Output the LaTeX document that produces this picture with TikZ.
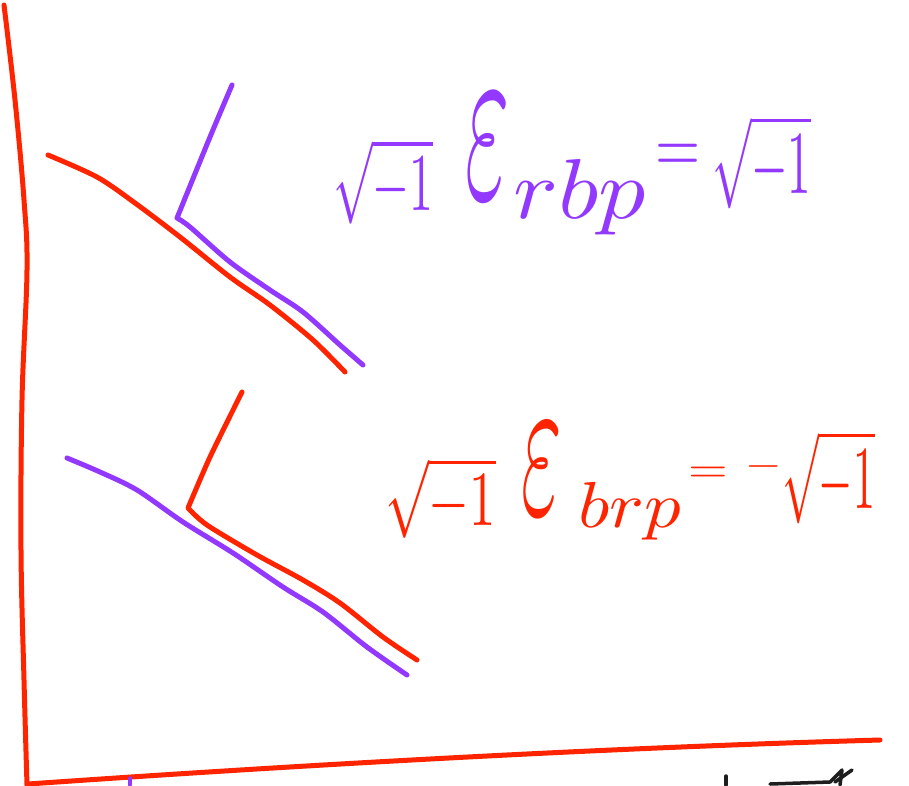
\documentclass[tikz,border=0pt]{standalone}
\usepackage{amsmath}
\usepackage{graphicx}
\definecolor{penred}{RGB}{255,36,0}
\definecolor{penpurple}{RGB}{146,56,255}
\definecolor{penblack}{RGB}{30,30,30}
\tikzset{
  redstroke/.style={draw=penred, line width=5pt, line cap=round, line join=round},
  purplestroke/.style={draw=penpurple, line width=5pt, line cap=round, line join=round},
  blackstroke/.style={draw=penblack, line width=3.5pt, line cap=round, line join=round},
  glyph/.style={inner sep=0pt, anchor=base west},
  topink/.style={glyph, text=penpurple},
  botink/.style={glyph, text=penred}
}
\begin{document}
\begin{tikzpicture}[x=1pt,y=-1pt]
\useasboundingbox (0,0) rectangle (909,785);
\fill[white] (0,0) rectangle (909,785);
% axes
\draw[redstroke] plot[smooth, tension=0.6] coordinates {(4,5) (15,100) (24,200) (27,270) (22,400) (21,550) (24,680) (27,785)};
\draw[redstroke] (28,784) .. controls (300,765) and (600,748) .. (880,740);
% upper pair
\draw[redstroke] plot[smooth, tension=0.5] coordinates {(48,155) (97,177) (135,203) (180,237) (230,277) (270,305) (313,340) (345,372)};
\draw[purplestroke] plot[smooth, tension=0.4] coordinates {(232,85) (210,137) (177,218)} -- plot[smooth, tension=0.5] coordinates {(177,218) (190,227) (230,262) (270,290) (303,312) (340,345) (363,365)};
% lower pair
\draw[purplestroke] plot[smooth, tension=0.5] coordinates {(67,458) (100,472) (137,490) (183,522) (233,553) (283,587) (323,612) (367,647) (407,675)};
\draw[redstroke] plot[smooth, tension=0.4] coordinates {(242,392) (210,457) (188,508)} -- plot[smooth, tension=0.5] coordinates {(188,508) (207,525) (257,555) (303,580) (340,603) (383,637) (417,660)};
% upper equation
\node[topink] (t1) at (333,210) {\scalebox{4.75}[8.2]{$\sqrt{-1}$}};
\node[topink] (t2) at (465,198) {\scalebox{9.5}[24]{$\varepsilon$}};
\node[topink] (t3) at (513,218) {\scalebox{9.4}[8.5]{$rbp$}};
\node[topink] (t4) at (655,172) {\scalebox{5.8}[7.7]{$=$}};
\node[topink] (t5) at (712,193) {\scalebox{4.7}[9]{$\sqrt{-1}$}};
% lower equation
\node[botink] (b1) at (385,525) {\scalebox{5.25}[7.8]{$\sqrt{-1}$}};
\node[botink] (b2) at (521,514) {\scalebox{8.7}[21]{$\varepsilon$}};
\node[botink] (b3) at (578,527) {\scalebox{7.3}[6.5]{$brp$}};
\node[botink] (b4) at (688,482) {\scalebox{5.1}[4.2]{$=$}};
\node[botink] (b5) at (745,476) {\scalebox{4.7}[4]{$-$}};
\node[botink] (b6) at (782,508) {\scalebox{4.4}[9]{$\sqrt{-1}$}};
% small marks at bottom edge
\draw[purplestroke, line width=3.5pt] (130,778) -- (130,785);
\draw[blackstroke] (726,776) -- (726,785);
\draw[blackstroke] (770,784) -- (830,782) -- (842,770) -- (840,785);
\draw[blackstroke] (835,782) -- (852,770);
\end{tikzpicture}
\end{document}
